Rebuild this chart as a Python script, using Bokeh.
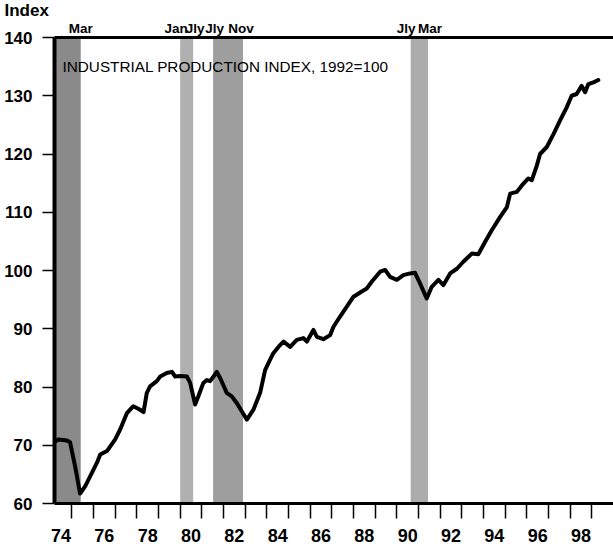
from bokeh.plotting import figure
from bokeh.models import FixedTicker, Label, Range1d, LinearAxis
from bokeh.embed import file_html
from bokeh.resources import INLINE

# ---- data ----
year = [1974.15, 1974.38, 1974.77, 1974.92, 1975.15, 1975.38, 1975.62, 1975.85,
        1976.16, 1976.31, 1976.62, 1977.00, 1977.23, 1977.54, 1977.84, 1978.15,
        1978.31, 1978.46, 1978.61, 1978.92, 1979.08, 1979.38, 1979.62, 1979.77,
        1980.00, 1980.31, 1980.46, 1980.69, 1980.84, 1981.07, 1981.23, 1981.38,
        1981.54, 1981.69, 1981.85, 1982.15, 1982.38, 1982.62, 1982.85, 1983.08,
        1983.38, 1983.69, 1983.92, 1984.15, 1984.30, 1984.61, 1984.77, 1985.08,
        1985.38, 1985.69, 1985.85, 1986.15, 1986.31, 1986.61, 1986.92, 1987.07,
        1987.38, 1987.69, 1988.00, 1988.38, 1988.61, 1988.85, 1989.23, 1989.46,
        1989.69, 1990.00, 1990.30, 1990.61, 1990.84, 1991.07, 1991.38, 1991.61,
        1991.92, 1992.15, 1992.46, 1992.77, 1993.07, 1993.46, 1993.76, 1994.07,
        1994.38, 1994.77, 1995.08, 1995.23, 1995.54, 1995.77, 1996.07, 1996.23,
        1996.46, 1996.61, 1996.92, 1997.23, 1997.54, 1997.84, 1998.07, 1998.30,
        1998.53, 1998.69, 1998.84, 1999.07, 1999.30]
index_value = [70.4, 71.0, 70.8, 70.5, 66.4, 61.7, 63.0, 64.7,
               67.0, 68.4, 69.0, 71.0, 72.7, 75.5, 76.7, 76.1,
               75.7, 79.0, 80.1, 81.0, 81.8, 82.4, 82.6, 81.8,
               81.9, 81.8, 80.7, 77.0, 78.4, 80.7, 81.2, 81.0,
               81.8, 82.6, 81.5, 79.0, 78.4, 77.2, 75.8, 74.4,
               76.1, 79.0, 82.9, 84.7, 85.8, 87.2, 87.8, 86.9,
               88.1, 88.4, 87.8, 89.8, 88.6, 88.2, 88.9, 90.3,
               92.1, 93.8, 95.5, 96.4, 96.9, 98.1, 99.8, 100.1,
               98.9, 98.4, 99.2, 99.5, 99.6, 97.8, 95.2, 97.2,
               98.4, 97.5, 99.5, 100.3, 101.5, 102.9, 102.8, 104.9,
               106.9, 109.2, 110.9, 113.2, 113.5, 114.6, 115.8, 115.5,
               118.0, 120.0, 121.2, 123.4, 125.8, 128.0, 130.0, 130.3,
               131.7, 130.6, 132.0, 132.3, 132.7]

recession_start = [1973.83, 1980.00, 1981.52, 1990.64]
recession_end = [1975.41, 1980.60, 1982.90, 1991.44]
turn_text = ["Mar", "Jan", "Jly", "Jly", "Nov", "Jly", "Mar"]
turn_year = [1975.41, 1980.00, 1980.60, 1981.52, 1982.90, 1990.64, 1991.44]

y_ticks = [60, 70, 80, 90, 100, 110, 120, 130, 140]
year_ticks = list(range(1975, 2000))
label_years = [1974.5, 1976.5, 1978.5, 1980.5, 1982.5, 1984.5, 1986.5,
               1988.5, 1990.5, 1992.5, 1994.5, 1996.5, 1998.5]
year_labels = ["74", "76", "78", "80", "82", "84", "86", "88", "90", "92",
               "94", "96", "98"]

title_text = "INDUSTRIAL PRODUCTION INDEX, 1992=100"
y_unit = "Index"

# ---- figure ----
X0, X1 = 1974.2, 2000.0
Y0, Y1 = 60, 140
p = figure(width=613, height=544, output_backend="svg", toolbar_location=None,
           x_range=Range1d(X0, X1), y_range=Range1d(Y0, Y1),
           min_border_top=0, min_border_right=0, min_border_left=54,
           min_border_bottom=0)
p.outline_line_color = None
p.xgrid.visible = False
p.ygrid.visible = False
p.background_fill_color = "white"
p.border_fill_color = "white"

# "Index" as the figure title, pulled left over the tick labels
p.title.text = y_unit
p.title.align = "left"
p.title.offset = -50
p.title.standoff = -4
p.title.text_font = "Liberation Sans"
p.title.text_font_style = "bold"
p.title.text_font_size = "17px"
p.title.text_color = "black"

shade_colors = ["#8a8a8a", "#b0b0b0", "#9e9e9e", "#acacac"]
p.quad(left=recession_start, right=recession_end, bottom=Y0, top=Y1,
       fill_color=shade_colors, line_color=None)

p.line(year, index_value, line_width=4, line_color="black",
       line_join="round", line_cap="round")

# y axis
ya = p.yaxis[0]
ya.ticker = FixedTicker(ticks=y_ticks)
ya.axis_line_width = 4
ya.major_tick_out = 12
ya.major_tick_in = 0
ya.major_tick_line_width = 1.5
ya.minor_tick_line_color = None
ya.major_label_standoff = 10
ya.major_label_text_font = "Liberation Sans"
ya.major_label_text_font_style = "bold"
ya.major_label_text_font_size = "17px"
ya.major_label_text_color = "black"

# x axis
xa = p.xaxis[0]
xa.ticker = FixedTicker(ticks=label_years, minor_ticks=year_ticks)
xa.major_label_overrides = {k: v for k, v in zip(label_years, year_labels)}
xa.axis_line_width = 3
xa.major_tick_out = 0
xa.major_tick_in = 0
xa.major_tick_line_color = None
xa.minor_tick_out = 15
xa.minor_tick_in = 0
xa.minor_tick_line_width = 1.5
xa.minor_tick_line_color = "black"
xa.major_label_standoff = 10
xa.major_label_text_font = "Liberation Sans"
xa.major_label_text_font_style = "bold"
xa.major_label_text_font_size = "18px"
xa.major_label_text_color = "black"

# turning-point labels on a top axis whose line is the top border
nudge_px = [0, -4, 2, 1.5, -2, -4.5, 2]
px_per_year = 559 / (X1 - X0)
turn_pos = [yr + dx / px_per_year for yr, dx in zip(turn_year, nudge_px)]
top = LinearAxis(ticker=FixedTicker(ticks=turn_pos),
                 major_label_overrides={k: v for k, v in zip(turn_pos, turn_text)})
top.axis_line_width = 3
top.major_tick_out = 0
top.major_tick_in = 0
top.major_tick_line_color = None
top.minor_tick_line_color = None
top.major_label_standoff = 2
top.major_label_text_font = "Liberation Sans"
top.major_label_text_font_style = "bold"
top.major_label_text_font_size = "13.5px"
top.major_label_text_color = "black"
p.add_layout(top, "above")

p.add_layout(Label(x=X0, y=Y1, text=title_text, x_offset=8, y_offset=-29,
                   text_align="left", text_baseline="alphabetic",
                   text_font="Liberation Sans", text_font_size="15.3px",
                   text_color="black"))

open("out.html", "w").write(file_html(p, INLINE))
